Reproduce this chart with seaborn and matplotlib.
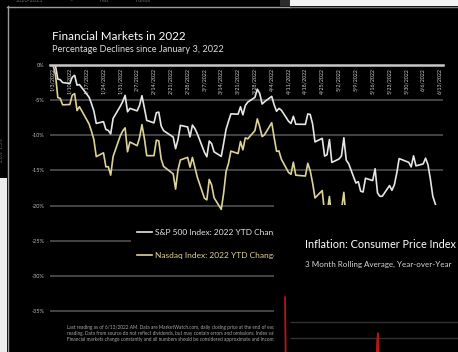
import numpy as np
import pandas as pd
import matplotlib
matplotlib.use("Agg")
import matplotlib.pyplot as plt
import seaborn as sns
from matplotlib.patches import Rectangle
from matplotlib.lines import Line2D

# ---------------------------------------------------------------- data
# Daily closes, first trading day of 2022 through June 13, 2022
sp500_close = [
    4796.56, 4793.54, 4700.58, 4696.05, 4677.03, 4670.29, 4713.07, 4726.35, 4659.03, 4662.85,
    4577.11, 4532.76, 4482.73, 4397.94, 4410.13, 4356.45, 4349.93, 4326.51, 4431.85, 4515.55,
    4546.54, 4589.38, 4477.44, 4500.53, 4483.87, 4521.54, 4587.18, 4504.08, 4418.64, 4401.67,
    4471.07, 4475.01, 4380.26, 4348.87, 4304.76, 4225.50, 4288.70, 4384.65, 4373.94,
    4306.26, 4386.54, 4363.49, 4328.87, 4201.09, 4170.70, 4277.88, 4259.52, 4204.31, 4173.11,
    4262.45, 4357.86, 4411.67, 4463.12, 4461.18, 4511.61, 4456.24, 4520.16, 4543.06, 4575.52,
    4631.60, 4602.45, 4530.41,
    4545.86, 4582.64, 4525.12, 4481.15, 4500.21, 4488.28, 4412.53, 4397.45, 4446.59, 4392.59,
    4391.69, 4462.21, 4459.45, 4393.66, 4271.78, 4296.12, 4175.20, 4183.96, 4287.50, 4131.93,
    4155.38, 4175.48, 4300.17, 4146.87, 4123.34, 3991.24, 4001.05, 3935.18, 3930.08, 4023.89,
    4008.01, 4088.85, 3923.68, 3900.79, 3901.36, 3973.75, 3941.48, 3978.73, 4057.84, 4158.24,
    4132.15,
    4101.23, 4176.82, 4108.54, 4121.43, 4160.68, 4115.77, 4017.82, 3900.86, 3749.63,
]
nasdaq_close = [
    15832.80, 15622.72, 15100.17, 15080.86, 14935.90, 14942.83, 15153.45, 15188.39, 14806.81, 14893.75,
    14506.90, 14340.26, 14154.02, 13768.92, 13855.13, 13539.29, 13542.12, 13352.78, 13770.57, 14239.88,
    14346.00, 14417.55, 13878.82, 14098.01, 14015.67, 14194.45, 14490.37, 14185.64, 13791.15, 13790.92,
    14139.76, 14124.09, 13716.72, 13548.07, 13381.52, 13037.49, 13473.59, 13694.62, 13751.40,
    13532.46, 13752.02, 13537.94, 13313.44, 12830.96, 12795.55, 13255.55, 13129.96, 12843.81, 12581.22,
    12948.62, 13436.55, 13614.78, 13893.84, 13838.46, 14108.82, 13922.60, 14191.84, 14169.30, 14354.90,
    14619.64, 14442.28, 14220.52,
    14261.50, 14532.55, 14204.17, 13888.82, 13897.30, 13711.00, 13411.96, 13371.57, 13643.59, 13351.08,
    13332.36, 13619.66, 13453.07, 13174.65, 12839.29, 13004.85, 12490.74, 12488.93, 12871.53, 12334.64,
    12536.02, 12563.76, 12964.86, 12317.69, 12144.66, 11623.25, 11737.67, 11364.24, 11370.96, 11805.00,
    11662.79, 11984.52, 11418.15, 11388.50, 11354.62, 11535.27, 11264.45, 11434.74, 11740.65, 12131.13,
    12081.39,
    12032.39, 12316.90, 12012.73, 12061.37, 12175.23, 12086.27, 11754.23, 11340.02, 10809.23,
]
market_holidays = ["2022-01-17", "2022-02-21", "2022-04-15", "2022-05-30"]

week_labels = [
    "1/3/2022", "1/10/2022", "1/17/2022", "1/24/2022", "1/31/2022", "2/7/2022",
    "2/14/2022", "2/21/2022", "2/28/2022", "3/7/2022", "3/14/2022", "3/21/2022",
    "3/28/2022", "4/4/2022", "4/11/2022", "4/18/2022", "4/25/2022", "5/2/2022",
    "5/9/2022", "5/16/2022", "5/23/2022", "5/30/2022", "6/6/2022", "6/13/2022",
]
y_ticks = [0, -5, -10, -15, -20, -25, -30, -35]
y_tick_labels = ["0%", "-5%", "-10%", "-15%", "-20%", "-25%", "-30%", "-35%"]

# CPI, 3-month rolling average of year-over-year change (%)
cpi_years = [1920.45, 1920.75, 1921.0, 1921.5, 1922.0, 1923.0, 1924.0, 1925.0, 1926.0,
             1927.0, 1928.0, 1929.0, 1930.0, 1931.0, 1932.0, 1933.0, 1934.0, 1935.0,
             1936.0, 1937.0, 1938.0, 1939.0, 1940.0, 1941.0, 1942.0, 1943.0, 1944.0,
             1945.0, 1946.0, 1946.5, 1947.0, 1947.25, 1947.6, 1948.0, 1948.5, 1949.0,
             1949.5, 1950.0, 1951.0, 1951.5, 1952.0, 1953.0, 1954.0, 1955.0, 1956.0,
             1957.0, 1958.0, 1959.0, 1960.0, 1961.0, 1962.0, 1963.0, 1964.0, 1965.0,
             1966.0, 1967.0, 1968.0, 1969.0, 1970.0]
cpi_yoy = [23.1, 12.0, 2.5, -14.0, -9.0, 1.5, 0.5, 3.0, 1.0,
           -2.0, -1.0, 0.5, -1.5, -9.0, -10.5, -5.0, 3.0, 2.5,
           1.0, 3.5, -2.0, -1.0, 1.0, 5.0, 11.5, 5.5, 2.0,
           2.3, 3.0, 10.0, 17.5, 18.6, 12.5, 9.0, 9.5, 1.5,
           -2.5, -1.0, 8.0, 9.0, 4.0, 1.0, 0.5, -0.3, 1.5,
           3.5, 3.0, 0.8, 1.6, 1.0, 1.2, 1.3, 1.3, 1.6,
           3.0, 2.8, 4.2, 5.4, 5.9]

# ---------------------------------------------------------------- frames
W, H = 458, 352
SP_COLOR = "#e4e6e8"
NQ_COLOR = "#ddd39a"
GRID = "#4a4a4a"

plt.rcParams["font.family"] = ["Lato", "DejaVu Sans"]

trade_dates = pd.bdate_range("2022-01-03", "2022-06-13")
trade_dates = trade_dates[~trade_dates.isin(pd.to_datetime(market_holidays))]

sp = np.array(sp500_close)
nq = np.array(nasdaq_close)
df = pd.concat([
    pd.DataFrame({"date": trade_dates, "pct": (sp / sp[0] - 1) * 100,
                  "series": "S&P 500 Index: 2022 YTD Change"}),
    pd.DataFrame({"date": trade_dates, "pct": (nq / nq[0] - 1) * 100,
                  "series": "Nasdaq Index: 2022 YTD Change"}),
])
cpi = pd.DataFrame({"year": cpi_years, "yoy": cpi_yoy})


def fx(x):
    return x / W


def fy(y):
    return 1 - y / H


fig = plt.figure(figsize=(W / 100, H / 100), dpi=100, facecolor="black")

# pieces of other pages around the main sheet
for rect, col in [((290, 0, 168, 6), "#f3f3f3"), ((280, 0, 10, 6), "#2c2c2c"),
                  ((0, 178, 7, 174), "#ececec")]:
    x, y, w, h = rect
    fig.add_artist(Rectangle((fx(x), fy(y + h)), fx(w), h / H, transform=fig.transFigure,
                             facecolor=col, edgecolor="none", zorder=1))
for xs, ys, col in [((7.5, 7.5), (6, 352), "#9c9c9c"), ((7, 290), (6.5, 6.5), "#9c9c9c"),
                    ((290, 458), (7, 7), "#777777")]:
    fig.add_artist(Line2D([fx(v) for v in xs], [fy(v) for v in ys],
                          transform=fig.transFigure, color=col, lw=1.0, zorder=2))
for x0, s in [(16, "2020-2021"), (70, "\u2013"), (100, "Fed"), (136, "Funds")]:
    fig.text(fx(x0), fy(1), s, color="#6a6a6a", fontsize=4, va="center", zorder=2)
fig.text(fx(2), fy(150), "2.0%  1.5%", color="#6a6a6a", fontsize=3.5, rotation=90,
         va="center", ha="center", zorder=2)

# ---------------------------------------------------------------- market chart
x_left = pd.Timestamp("2022-01-03") - pd.Timedelta(hours=30)
x_right = pd.Timestamp("2022-06-13") + pd.Timedelta(hours=30)
ax = fig.add_axes([fx(50), 0, fx(393), (H - 65) / H])
ax.set_facecolor("black")
sns.lineplot(data=df, x="date", y="pct", hue="series",
             palette=[SP_COLOR, NQ_COLOR], linewidth=1.2, ax=ax)
ax.set_xlim(x_left, x_right)
ax.set_ylim(-(H - 65) / 7.03, 0)
for s in ax.spines.values():
    s.set_visible(False)
ax.set_xticks([])
ax.set_xlabel("")
ax.set_ylabel("")
ax.set_yticks(y_ticks)
ax.set_yticklabels(y_tick_labels)
ax.tick_params(axis="y", length=0, pad=4, labelsize=4, labelcolor="#bbbbbb")
ax.yaxis.grid(True, color=GRID, lw=1.3)
ax.set_axisbelow(True)
ax.axhline(0, color="#c9c9c9", lw=1.8, clip_on=False, zorder=3)

for lab in week_labels:
    d = pd.to_datetime(lab, format="%m/%d/%Y")
    ax.text(d, -0.45, lab, rotation=90, ha="center", va="top",
            fontsize=3.8, color="#d0d0d0")

handles, labels = ax.get_legend_handles_labels()
leg = ax.legend(handles, labels, loc="upper left",
                bbox_to_anchor=(fx(127), fy(219)), bbox_transform=fig.transFigure,
                frameon=True, facecolor="black", edgecolor="none", framealpha=1,
                fontsize=6, labelcolor="linecolor", handlelength=1.8,
                handletextpad=0.35, labelspacing=1.95, borderpad=0.7)

fig.text(fx(52), fy(36), "Financial Markets in 2022", color="white",
         fontsize=8.4, va="center", ha="left")
fig.text(fx(52), fy(50), "Percentage Declines since January 3, 2022", color="#dcdcdc",
         fontsize=6.6, va="center", ha="left")

notes = [
    "Last reading as of 6/13/2022 AM. Data are MarketWatch.com, daily closing price at the end of each",
    "reading. Data from source do not reflect dividends, but may contain errors and omissions. Index values",
    "Financial markets change constantly and all numbers should be considered approximate and incomplete.",
]
for i, line in enumerate(notes):
    fig.text(fx(67), fy(327 + 6 * i), line, color="#a8a8a8", fontsize=3.4,
             va="center", ha="left")

# ---------------------------------------------------------------- inflation sheet on top
ov = fig.add_axes([fx(274), 0, fx(W - 274), (H - 205) / H], zorder=5)
ov.set_facecolor("black")
ov.set_xticks([])
ov.set_yticks([])
for s in ov.spines.values():
    s.set_visible(False)

fig.text(fx(305), fy(245), "Inflation: Consumer Price Index", color="white",
         fontsize=7.8, va="center", ha="left", zorder=8)
fig.text(fx(305), fy(264), "3 Month Rolling Average, Year-over-Year", color="#d6d6d6",
         fontsize=5.8, va="center", ha="left", zorder=8)

px_per_year = 3.47
ax2 = fig.add_axes([fx(283), 0, fx(W - 283), (H - 290) / H], zorder=6)
ax2.set_facecolor("none")
x0 = 1920.45 - 2 / px_per_year
ax2.set_xlim(x0, x0 + (W - 283) / px_per_year)
ax2.set_ylim(18 - (352 - 338) / 8, 18 + (338 - 290) / 8)
ax2.hlines([18, 20], 1922.0, 1975, color="#303030", lw=1.0)
sns.lineplot(data=cpi, x="year", y="yoy", color="#b3161b", linewidth=1.3, ax=ax2)
ax2.set_axis_off()

fig.savefig("out.png", dpi=100, facecolor="black")
